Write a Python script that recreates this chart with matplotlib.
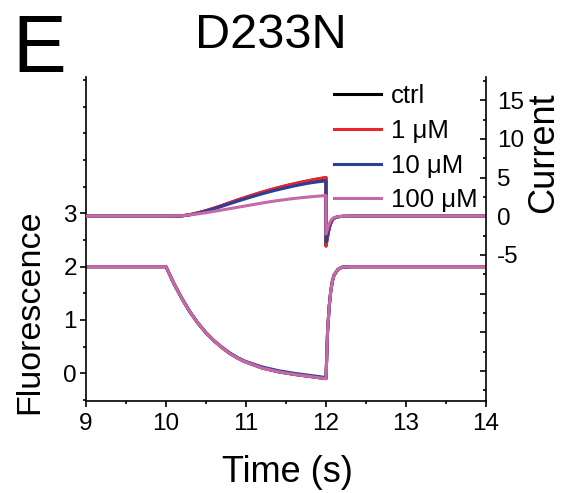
import matplotlib
matplotlib.use("Agg")
import matplotlib.pyplot as plt
from matplotlib.ticker import FixedLocator, FixedFormatter

plt.rcParams['font.family'] = ['Liberation Sans', 'DejaVu Sans']
plt.rcParams['axes.unicode_minus'] = False

# ---------------- data ----------------
labels = ["ctrl", "1 μM", "10 μM", "100 μM"]
colors = ["#000000", "#e8262d", "#2b3f97", "#c46aa9"]

# current traces (right axis)
cur_t = [9.0, 10.0, 10.1, 10.2, 10.3, 10.4, 10.5, 10.6, 10.7, 10.8, 10.9,
         11.0, 11.1, 11.2, 11.3, 11.4, 11.5, 11.6, 11.7, 11.8, 11.9, 12.0,
         12.0, 12.02, 12.04, 12.06, 12.08, 12.1, 12.15, 12.2, 12.3, 14.0]
cur_ctrl = [0, 0, 0.0, 0.05, 0.2, 0.42, 0.7, 1.02, 1.37, 1.73, 2.09,
            2.43, 2.76, 3.08, 3.38, 3.66, 3.92, 4.16, 4.39, 4.6, 4.8, 4.97,
            -3.8, -2.6, -1.55, -0.9, -0.48, -0.26, -0.08, -0.02, 0, 0]
cur_1 = [0, 0, 0.0, 0.05, 0.21, 0.44, 0.72, 1.05, 1.4, 1.77, 2.13,
         2.47, 2.8, 3.12, 3.42, 3.7, 3.96, 4.2, 4.43, 4.64, 4.84, 5.0,
         -3.9, -2.65, -1.6, -0.92, -0.5, -0.27, -0.08, -0.02, 0, 0]
cur_10 = [0, 0, 0.0, 0.04, 0.18, 0.39, 0.65, 0.95, 1.28, 1.62, 1.96,
          2.28, 2.59, 2.89, 3.17, 3.43, 3.67, 3.9, 4.11, 4.3, 4.45, 4.57,
          -3.3, -2.25, -1.35, -0.78, -0.42, -0.23, -0.07, -0.02, 0, 0]
cur_100 = [0, 0, 0.02, 0.08, 0.18, 0.3, 0.45, 0.62, 0.8, 0.98, 1.16,
           1.34, 1.52, 1.7, 1.87, 2.02, 2.16, 2.29, 2.4, 2.5, 2.59, 2.67,
           -2.3, -1.6, -1.0, -0.6, -0.33, -0.18, -0.06, -0.02, 0, 0]

# fluorescence traces (left axis)
fl_t = [9.0, 10.0, 10.1, 10.2, 10.3, 10.4, 10.5, 10.6, 10.7, 10.8, 10.9, 11.0,
        11.2, 11.4, 11.6, 11.8, 12.0,
        12.01, 12.02, 12.04, 12.06, 12.08, 12.1, 12.15, 12.2, 12.3, 14.0]
fl_ctrl = [2.0, 2.0, 1.68, 1.40, 1.15, 0.94, 0.76, 0.61, 0.48, 0.37, 0.28, 0.21,
           0.10, 0.03, -0.02, -0.06, -0.10,
           0.35, 0.8, 1.25, 1.55, 1.73, 1.84, 1.95, 1.99, 2.0, 2.0]
fl_1 = [2.0, 2.0, 1.68, 1.40, 1.15, 0.94, 0.76, 0.61, 0.48, 0.37, 0.28, 0.21,
        0.10, 0.03, -0.02, -0.06, -0.10,
        0.35, 0.8, 1.25, 1.55, 1.73, 1.84, 1.95, 1.99, 2.0, 2.0]
fl_10 = [2.0, 2.0, 1.68, 1.40, 1.15, 0.94, 0.76, 0.61, 0.49, 0.38, 0.29, 0.22,
         0.12, 0.05, 0.0, -0.04, -0.08,
         0.35, 0.8, 1.25, 1.55, 1.73, 1.84, 1.95, 1.99, 2.0, 2.0]
fl_100 = [2.0, 2.0, 1.68, 1.40, 1.15, 0.94, 0.76, 0.61, 0.48, 0.37, 0.28, 0.21,
          0.10, 0.03, -0.02, -0.06, -0.10,
          0.35, 0.8, 1.25, 1.55, 1.73, 1.84, 1.95, 1.99, 2.0, 2.0]

cur_series = [cur_ctrl, cur_1, cur_10, cur_100]
fl_series = [fl_ctrl, fl_1, fl_10, fl_100]

time_ticks = [9, 10, 11, 12, 13, 14]
time_minor = [9.5, 10.5, 11.5, 12.5, 13.5]
fl_ticks = [0, 1, 2, 3]
fl_minor = [-0.5, 0.5, 1.5, 2.5, 3.5, 4.0, 4.5, 5.0, 5.5]
cur_ticks = [-20, -15, -10, -5, 0, 5, 10, 15]
cur_ticklabels = ["", "", "", "-5", "0", "5", "10", "15"]
cur_minor = [-22.5, -17.5, -12.5, -7.5, -2.5, 2.5, 7.5, 12.5, 17.5]

# ---------------- figure ----------------
W, H = 563, 493
fig = plt.figure(figsize=(W / 100, H / 100), dpi=100)
ax = fig.add_axes([86 / W, 1 - 401 / H, 400 / W, 324 / H])
ax2 = ax.twinx()

for ys, c in zip(fl_series, colors):
    ax.plot(fl_t, ys, color=c, lw=2.2, solid_joinstyle='round')
handles = []
for ys, c, lab in zip(cur_series, colors, labels):
    h, = ax2.plot(cur_t, ys, color=c, lw=2.2, label=lab, solid_joinstyle='round')
    handles.append(h)

ax.set_xlim(9, 14)
ax.set_ylim(-0.52, 5.56)
ax2.set_ylim(-23.9, 18.0)

for a in (ax, ax2):
    a.spines['top'].set_visible(False)
    for s in a.spines.values():
        s.set_linewidth(1.2)
ax.spines['right'].set_visible(False)
ax2.spines['left'].set_visible(False)
ax2.spines['bottom'].set_visible(False)

ax.xaxis.set_major_locator(FixedLocator(time_ticks))
ax.xaxis.set_minor_locator(FixedLocator(time_minor))
ax.yaxis.set_major_locator(FixedLocator(fl_ticks))
ax.yaxis.set_minor_locator(FixedLocator(fl_minor))
ax2.yaxis.set_major_locator(FixedLocator(cur_ticks))
ax2.yaxis.set_major_formatter(FixedFormatter(cur_ticklabels))
ax2.yaxis.set_minor_locator(FixedLocator(cur_minor))

ax.tick_params(axis='x', which='major', direction='out', length=4.5, width=1.2,
               labelsize=17.5, pad=4)
ax.tick_params(axis='x', which='minor', direction='out', length=2.5, width=1.2)
ax.tick_params(axis='y', which='major', direction='out', length=4.5, width=1.2,
               labelsize=17.5, pad=2)
ax.tick_params(axis='y', which='minor', direction='out', length=2.5, width=1.2)
ax2.tick_params(axis='y', which='major', direction='in', length=4.5, width=1.2,
                labelsize=17.5, pad=8)
ax2.tick_params(axis='y', which='minor', direction='in', length=2.5, width=1.2)

leg = ax2.legend(handles, labels, loc='upper right',
                 bbox_to_anchor=(478 / W, 1 - 84 / H),
                 bbox_transform=fig.transFigure, frameon=False, fontsize=18.5,
                 handlelength=1.85, handletextpad=0.4, labelspacing=0.42,
                 borderpad=0, borderaxespad=0)

fig.text(12 / W, 1 - 72 / H, "E", fontsize=58,
         family=['Liberation Sans Narrow', 'Liberation Sans', 'DejaVu Sans'],
         ha='left', va='baseline')
fig.text(271 / W, 1 - 48 / H, "D233N", fontsize=35, ha='center', va='baseline')
fig.text(287 / W, 1 - 482 / H, "Time (s)", fontsize=26, ha='center', va='baseline')
fig.text(38 / W, 1 - 312 / H, "Fluorescence", fontsize=24.5, rotation=90,
         rotation_mode='anchor', ha='center', va='baseline')
fig.text(553 / W, 1 - 153 / H, "Current", fontsize=26, rotation=90,
         rotation_mode='anchor', ha='center', va='baseline')

fig.savefig("out.png", dpi=100)
